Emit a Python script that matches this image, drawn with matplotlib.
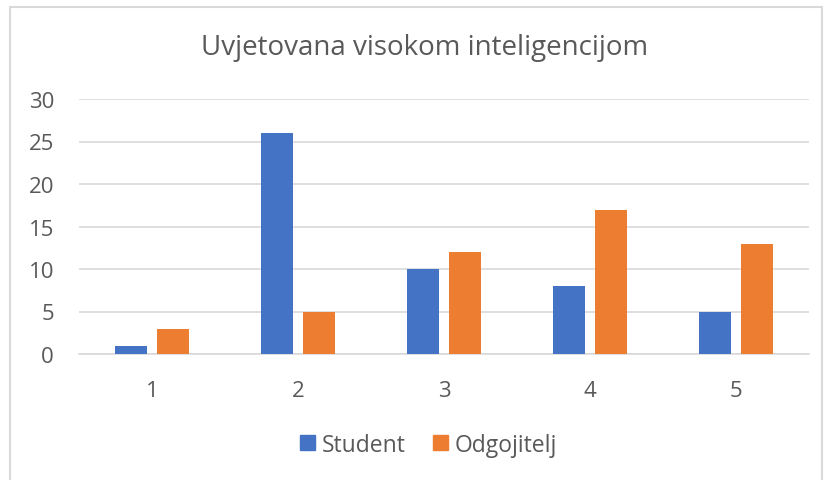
import matplotlib.pyplot as plt
from matplotlib.patches import Rectangle, Patch
import numpy as np

# Data
categories = ['1', '2', '3', '4', '5']
student = [1, 26, 10, 8, 5]
odgojitelj = [3, 5, 12, 17, 13]
y_ticks = [0, 5, 10, 15, 20, 25, 30]

plt.rcParams['font.family'] = ['Open Sans', 'DejaVu Sans']
text_color = '#595959'

fig = plt.figure(figsize=(8.26, 4.81), dpi=100)
ax = fig.add_axes([79 / 826, 1 - 355 / 481, 730 / 826, 255 / 481])

x = np.arange(len(categories))
w = 0.222
off = 0.144
ax.bar(x - off, student, w, color='#4472C4', label='Student', zorder=3)
ax.bar(x + off, odgojitelj, w, color='#ED7D31', label='Odgojitelj', zorder=3)

ax.set_xlim(-0.5, len(categories) - 0.5)
ax.set_ylim(0, 30)
ax.set_yticks(y_ticks)
ax.set_xticks(x)
ax.set_xticklabels(categories)
ax.grid(axis='y', color='#d9d9d9', linewidth=1.2, zorder=0)
for s in ['top', 'right', 'left']:
    ax.spines[s].set_visible(False)
ax.spines['bottom'].set_color('#d9d9d9')
ax.spines['bottom'].set_linewidth(1.2)
ax.tick_params(axis='both', length=0, labelsize=16, colors=text_color)
ax.tick_params(axis='y', pad=18)
ax.tick_params(axis='x', pad=19)

fig.text(0.514, 0.9, 'Uvjetovana visokom inteligencijom', ha='center', va='center',
         fontsize=20, color=text_color)

handles = [Patch(color='#4472C4'), Patch(color='#ED7D31')]
fig.legend(handles, ['Student', 'Odgojitelj'], loc='center', bbox_to_anchor=(0.519, 0.073),
           ncol=2, frameon=False, fontsize=16.5, labelcolor=text_color,
           handlelength=0.65, handleheight=0.65, handletextpad=0.3, columnspacing=1.2)

# chart border
fig.patches.append(Rectangle((10 / 826, -0.05), 812 / 826, 1 - 8 / 481 + 0.05,
                             transform=fig.transFigure, fill=False,
                             edgecolor='#d9d9d9', linewidth=1.5))

plt.savefig('out.png', dpi=100)
